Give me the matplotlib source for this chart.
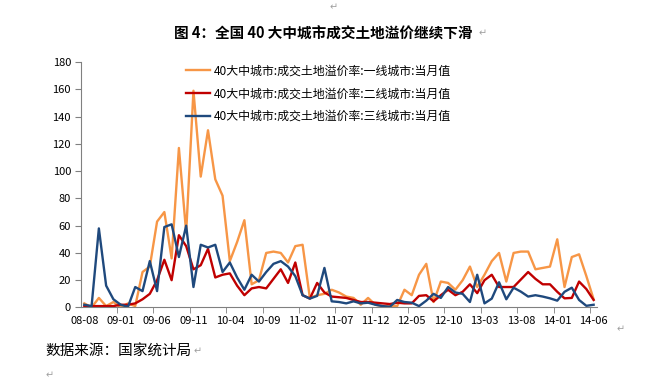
import matplotlib
matplotlib.use('Agg')
import matplotlib.pyplot as plt
import numpy as np

plt.rcParams['font.family'] = ['Noto Sans CJK SC', 'DejaVu Sans']

# monthly data 2008-08 .. 2014-06
months = []
for y in range(2008, 2015):
    for m in range(1, 13):
        if (y, m) >= (2008, 8) and (y, m) <= (2014, 6):
            months.append('%02d-%02d' % (y % 100, m))

tier1 = [3, 0, 7, 1, 4, 0, 3, 1, 26, 30,
         63, 70, 36, 117, 55, 159, 96, 130, 94, 82,
         34, 48, 64, 17, 20, 40, 41, 40, 33, 45,
         46, 7, 9, 10, 13, 11, 8, 7, 2, 7,
         2, 1, 1, 1, 13, 9, 24, 32, 4, 19,
         18, 13, 20, 30, 15, 24, 34, 40, 19, 40,
         41, 41, 28, 29, 30, 50, 15, 37, 39, 23,
         6]
tier2 = [1, 1, 1, 1, 1, 2, 2, 3, 6, 10,
         20, 35, 20, 53, 45, 28, 31, 43, 22, 24,
         25, 16, 9, 14, 15, 14, 21, 28, 18, 33,
         9, 6.5, 18, 11, 8, 7.5, 7, 5.5, 4, 4,
         3.5, 3, 2.5, 3.5, 3, 3, 8.5, 9, 4.5, 9,
         13, 9, 11.5, 17, 10.5, 20, 24, 15, 15, 15,
         20.5, 26, 21, 17, 17, 11.5, 6.7, 7, 19, 13.5,
         5.5]
tier3 = [2, 1, 58, 16, 6, 2, 0.5, 15, 12, 34,
         12, 59, 61, 37, 60, 15, 46, 44, 46, 26,
         33, 22, 13, 24, 19, 26, 32, 34, 30, 23,
         9, 6.5, 8.5, 29, 4.5, 4, 3, 4.5, 3, 3.5,
         2, 1, 0.5, 5.5, 4, 3.5, 1, 5, 10, 7,
         15, 11, 10, 4, 24, 3, 6.5, 18.5, 6, 14.5,
         11.6, 8, 9, 8, 6.7, 5, 11.5, 14.5, 5.5, 1.2,
         2]

labels = ['40大中城市:成交土地溢价率:一线城市:当月值',
          '40大中城市:成交土地溢价率:二线城市:当月值',
          '40大中城市:成交土地溢价率:三线城市:当月值']
colors = ['#F79646', '#C00000', '#1F497D']

x = np.arange(len(months))

fig = plt.figure(figsize=(6.64, 3.81), dpi=100)
ax = fig.add_axes([0.1215, 0.193, 0.778, 0.644])

for vals, lab, c in zip([tier1, tier2, tier3], labels, colors):
    ax.plot(x, vals, color=c, lw=1.7, label=lab)

ax.set_xlim(-0.5, len(months) - 0.5)
ax.set_ylim(0, 180)
ax.set_yticks(np.arange(0, 181, 20))
ax.tick_params(axis='y', labelsize=8, length=4, color='#808080', pad=3)

ax.set_xticks(x[::5])
ax.set_xticklabels(months[::5])
ax.set_xticks(x[5::5] - 0.5, minor=True)
ax.tick_params(axis='x', which='major', labelsize=8, length=0, pad=6)
ax.tick_params(axis='x', which='minor', length=4, color='#808080')

for s in ['top', 'right']:
    ax.spines[s].set_visible(False)
for s in ['left', 'bottom']:
    ax.spines[s].set_color('#808080')
    ax.spines[s].set_linewidth(0.8)

leg = ax.legend(loc='upper left', bbox_to_anchor=(0.19, 1.02), frameon=False,
                fontsize=8.6, handlelength=2.0, handletextpad=0.3,
                labelspacing=0.82, borderaxespad=0.2)

fig.text(0.487, 0.912, '图 4：全国 40 大中城市成交土地溢价继续下滑',
         ha='center', va='center', fontsize=10.5, fontweight='bold')
fig.text(0.068, 0.077, '数据来源：国家统计局', ha='left', va='center', fontsize=10.5)

gray = '#A0A0A0'
fig.text(0.502, 0.98, '↵', ha='center', va='center', fontsize=7, color=gray)
fig.text(0.727, 0.912, '↵', ha='center', va='center', fontsize=7, color=gray)
fig.text(0.935, 0.137, '↵', ha='center', va='center', fontsize=7, color=gray)
fig.text(0.297, 0.077, '↵', ha='center', va='center', fontsize=7, color=gray)
fig.text(0.075, 0.015, '↵', ha='center', va='center', fontsize=7, color=gray)

fig.savefig('out.png', dpi=100)
